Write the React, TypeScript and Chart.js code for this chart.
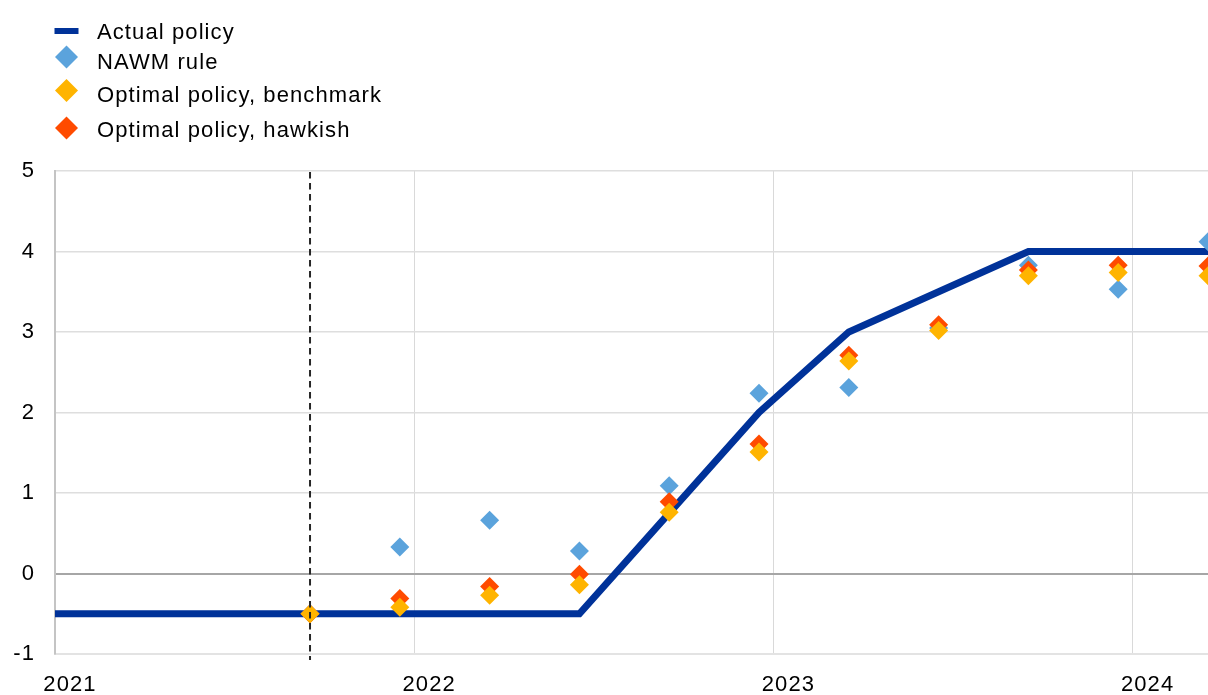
import { useEffect, useRef } from "react";
import { Chart, registerables } from "chart.js";

Chart.register(...registerables);

// ---- Data ----
const quarterDates = [2020.96, 2021.21, 2021.46, 2021.71, 2021.96, 2022.21, 2022.46, 2022.71, 2022.96, 2023.21, 2023.46, 2023.71, 2023.96, 2024.21];
const actualPolicy = [-0.5, -0.5, -0.5, -0.5, -0.5, -0.5, -0.5, 0.75, 2.0, 3.0, 3.5, 4.0, 4.0, 4.0];

const scenarioDates = [2021.71, 2021.96, 2022.21, 2022.46, 2022.71, 2022.96, 2023.21, 2023.46, 2023.71, 2023.96, 2024.21];
const nawmRule = [-0.5, 0.33, 0.66, 0.28, 1.09, 2.24, 2.31, 3.05, 3.83, 3.53, 4.12];
const optimalBenchmark = [-0.5, -0.42, -0.27, -0.14, 0.76, 1.51, 2.64, 3.02, 3.7, 3.74, 3.7];
const optimalHawkish = [-0.5, -0.31, -0.16, -0.01, 0.89, 1.61, 2.71, 3.09, 3.77, 3.83, 3.82];

const seriesLabels = ["Actual policy", "NAWM rule", "Optimal policy, benchmark", "Optimal policy, hawkish"];
const yearTicks = [2021, 2022, 2023, 2024];
const valueTicks = [-1, 0, 1, 2, 3, 4, 5];
const forecastStart = 2021.71;

// ---- Styles ----
const FONT = "'Liberation Sans', Arial, Helvetica, sans-serif";
const DARK_BLUE = "#003299";
const LIGHT_BLUE = "#5ba3dc";
const YELLOW = "#ffb400";
const ORANGE = "#ff4b00";

const toXY = (xs: number[], ys: number[]) => xs.map((x, i) => ({ x, y: ys[i] }));

const legendPlugin = {
  id: "customLegend",
  afterDraw(chart: any) {
    const ctx = chart.ctx as CanvasRenderingContext2D;
    const baselines = [39, 69, 102, 137];
    const symbolY = [31, 57, 90.5, 128];
    const symbolX = 66.5;
    const textX = 97;
    ctx.save();
    ctx.font = `22px ${FONT}`;
    (ctx as any).letterSpacing = "1.1px";
    ctx.textBaseline = "alphabetic";
    ctx.textAlign = "left";
    chart.data.datasets.forEach((ds: any, i: number) => {
      const cy = symbolY[i];
      if (ds.showLine === false) {
        const r = 11.5;
        ctx.fillStyle = ds.backgroundColor;
        ctx.beginPath();
        ctx.moveTo(symbolX, cy - r);
        ctx.lineTo(symbolX + r, cy);
        ctx.lineTo(symbolX, cy + r);
        ctx.lineTo(symbolX - r, cy);
        ctx.closePath();
        ctx.fill();
      } else {
        ctx.fillStyle = ds.borderColor;
        ctx.fillRect(symbolX - 12, cy - 3, 24, 6);
      }
      ctx.fillStyle = "#000";
      ctx.fillText(ds.label, textX, baselines[i]);
    });
    ctx.restore();
  },
};

const dashedLinePlugin = {
  id: "dashedLine",
  afterDatasetsDraw(chart: any) {
    const ctx = chart.ctx as CanvasRenderingContext2D;
    const x = chart.scales.x.getPixelForValue(forecastStart);
    const { top, bottom } = chart.chartArea;
    ctx.save();
    ctx.strokeStyle = "#262626";
    ctx.lineWidth = 2;
    ctx.setLineDash([6.5, 4.5]);
    ctx.beginPath();
    ctx.moveTo(x, top + 1);
    ctx.lineTo(x, bottom + 6);
    ctx.stroke();
    ctx.restore();
  },
};

const spacingPlugin = {
  id: "letterSpacing",
  beforeDraw(chart: any) {
    (chart.ctx as any).letterSpacing = "1.1px";
  },
};

export default function App() {
  const canvasRef = useRef<HTMLCanvasElement | null>(null);

  useEffect(() => {
    if (!canvasRef.current) return;
    const chart = new Chart(canvasRef.current, {
      type: "scatter",
      data: {
        datasets: [
          {
            type: "line",
            label: seriesLabels[0],
            data: toXY(quarterDates, actualPolicy),
            borderColor: DARK_BLUE,
            backgroundColor: DARK_BLUE,
            borderWidth: 7,
            pointRadius: 0,
            showLine: true,
            tension: 0,
            clip: 0,
            order: 3,
          } as any,
          {
            label: seriesLabels[1],
            data: toXY(scenarioDates, nawmRule),
            backgroundColor: LIGHT_BLUE,
            borderWidth: 0,
            pointStyle: "rectRot",
            pointRadius: 9.5,
            showLine: false,
            order: 2,
          },
          {
            label: seriesLabels[2],
            data: toXY(scenarioDates, optimalBenchmark),
            backgroundColor: YELLOW,
            borderWidth: 0,
            pointStyle: "rectRot",
            pointRadius: 9.5,
            showLine: false,
            order: 0,
          },
          {
            label: seriesLabels[3],
            data: toXY(scenarioDates, optimalHawkish),
            backgroundColor: ORANGE,
            borderWidth: 0,
            pointStyle: "rectRot",
            pointRadius: 9.5,
            showLine: false,
            order: 1,
          },
        ],
      },
      options: {
        responsive: false,
        animation: false,
        devicePixelRatio: 1,
        layout: { autoPadding: false, padding: { top: 171, left: 0, right: 0, bottom: 0 } },
        plugins: {
          legend: { display: false },
          tooltip: { enabled: false },
        },
        scales: {
          x: {
            type: "linear",
            min: 2021,
            max: 2024.21,
            afterBuildTicks: (s: any) => {
              s.ticks = yearTicks.map((v) => ({ value: v }));
            },
            afterFit: (s: any) => {
              s.height = 41;
              s.paddingLeft = 0;
              s.paddingRight = 0;
            },
            ticks: {
              callback: (v: any) => String(v),
              labelOffset: 15,
              padding: 18,
              color: "#000",
              font: { family: FONT, size: 22 },
              maxRotation: 0,
              autoSkip: false,
            },
            grid: { color: "#d9d9d9", lineWidth: 1, drawTicks: false },
            border: { color: "#e3e3e3", width: 2 },
          },
          y: {
            type: "linear",
            min: -1,
            max: 5,
            afterBuildTicks: (s: any) => {
              s.ticks = valueTicks.map((v) => ({ value: v }));
            },
            afterFit: (s: any) => {
              s.width = 55;
              s.paddingTop = 0;
              s.paddingBottom = 0;
            },
            ticks: {
              callback: (v: any) => String(v),
              padding: 20,
              color: "#000",
              font: { family: FONT, size: 22 },
            },
            grid: {
              color: (c: any) => (c.tick && c.tick.value === 0 ? "#a6a6a6" : "#dedede"),
              lineWidth: (c: any) => (c.tick && c.tick.value === 0 ? 2 : 1.5),
              drawTicks: false,
            },
            border: { color: "#c4c4c4", width: 2 },
          },
        },
      },
      plugins: [spacingPlugin, dashedLinePlugin, legendPlugin],
    });
    return () => chart.destroy();
  }, []);

  return (
    <div style={{ position: "absolute", left: 0, top: 0, width: 1208, height: 695, background: "#fff" }}>
      <canvas ref={canvasRef} width={1208} height={695} style={{ display: "block" }} />
    </div>
  );
}
